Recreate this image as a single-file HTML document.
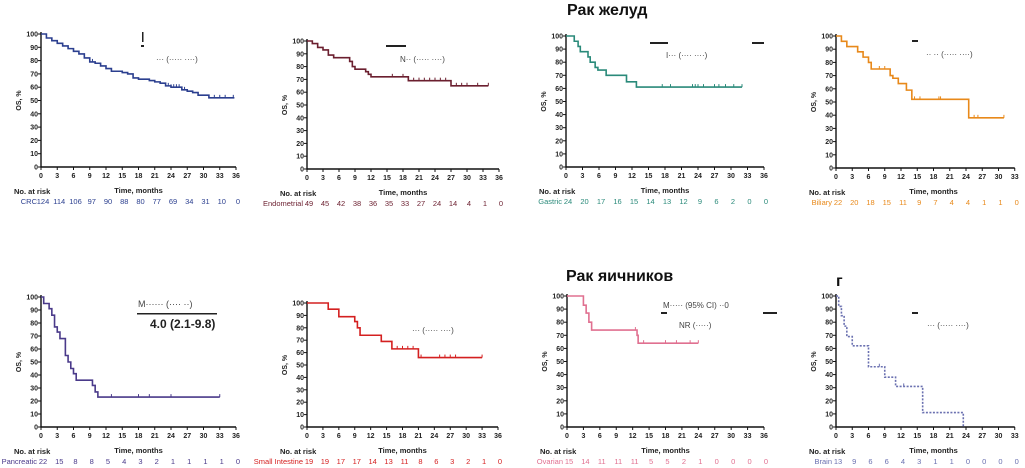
<!DOCTYPE html>
<html><head><meta charset="utf-8"><style>
html,body{margin:0;padding:0;background:#fff;}
svg{display:block;font-family:"Liberation Sans",Arial,sans-serif;}
.t{font-family:"Liberation Sans","Noto Sans CJK SC",sans-serif;font-weight:bold;}
</style></head><body>
<svg id="c" width="1025" height="468" viewBox="0 0 1025 468">
<text class="t" x="567" y="15" font-size="16" fill="#111">Рак желуд</text>
<text class="t" x="566" y="281" font-size="16" fill="#111">Рак яичников</text>
<text class="t" x="836" y="286" font-size="16" fill="#111">г</text>
<rect x="142" y="32" width="1.5" height="10" fill="#222"/>
<rect x="141" y="45" width="3" height="2" fill="#222"/>
<text x="156" y="62" font-size="8" fill="#444">··· (····· ····)</text>
<rect x="386" y="45" width="20" height="2" fill="#222"/>
<text x="400" y="62" font-size="8" fill="#444">N·· (····· ····)</text>
<rect x="650" y="42" width="18" height="2" fill="#222"/>
<rect x="752" y="42" width="12" height="2" fill="#222"/>
<text x="666" y="58" font-size="8" fill="#444">I··· (···· ····)</text>
<rect x="912" y="40" width="6" height="2" fill="#222"/>
<text x="926" y="57" font-size="8" fill="#444">·· ·· (····· ····)</text>
<text x="138" y="307" font-size="9" fill="#444">M······ (···· ··)</text>
<rect x="137" y="313" width="80" height="1.5" fill="#222"/>
<text x="150" y="328" font-size="12" font-weight="bold" fill="#222">4.0 (2.1-9.8)</text>
<text x="412" y="333" font-size="8" fill="#444">··· (····· ····)</text>
<text x="663" y="308" font-size="8" fill="#444">M····· (95% CI) ··0</text>
<rect x="661" y="312" width="6" height="2" fill="#222"/>
<rect x="763" y="312" width="14" height="2" fill="#222"/>
<text x="679" y="328" font-size="8" fill="#444">NR (·····)</text>
<rect x="912" y="312" width="6" height="2" fill="#222"/>
<text x="927" y="328" font-size="8" fill="#444">··· (····· ····)</text>
</svg>
<script>
const crcT=[0,1,2,3,4,5,6,7,8,9,10,11,12,13,15,16,17,18,20,21,22,23,24,26,27,28,29,31];
const crcS=[100,97,95,93,91,89,87,85,82,79,78,76,74,72,71,70,67,66,65,64,63,61,60,58,57,56,54,52];
const crcC=[5,9.5,11,23,23.5,24,24.5,25,25.5,26,26.5,31,32,33,34,35.5];
const crcRisk=[124,114,106,97,90,88,80,77,69,34,31,10,0];
const endT=[0,1,2,3,4,5,8,8.5,9,11,11.5,12,19,27];
const endS=[100,98,95,93,89,87,84,80,78,76,74,72,69,65];
const endC=[16,18,19,20,21,22,23,24,25,26,28,29,30,32,34];
const endRisk=[49,45,42,38,36,35,33,27,24,14,4,1,0];
const gasT=[0,1.5,2.2,2.6,4,4.4,5.3,5.8,7.3,11,12.8];
const gasS=[100,96,92,88,84,80,76,74,70,65,61];
const gasC=[17.5,19,23,23.5,24,25,27,27.8,29,30.5,32];
const gasRisk=[24,20,17,16,15,14,13,12,9,6,2,0,0];
const bilT=[0,1,2,4,5,6,6.5,10,10.5,11.5,13,14,24.5];
const bilS=[100,96,92,88,84,80,75,70,68,64,59,52,38];
const bilC=[8,9,10,14.5,15.5,19,19.3,25.5,26.2,31];
const bilRisk=[22,20,18,15,11,9,7,4,4,1,1,0];
const panT=[0,0.5,1.5,2,2.5,3,3.5,4.5,5,5.5,6,6.5,9.5,10,10.5];
const panS=[100,95,91,86,77,73,68,55,50,45,41,36,32,27,23];
const panC=[13,18,20,24,33];
const panRisk=[22,15,8,8,5,4,3,2,1,1,1,1,0];
const siT=[0,4,6,9,9.5,10,14,16,21];
const siS=[100,95,89,85,80,74,69,63,56];
const siC=[17,18,19,20,21.5,25,26,27,28,33];
const siRisk=[19,19,17,17,14,13,11,8,6,3,2,1,0];
const ovT=[0,3,3.5,4,4.5,12.8,13];
const ovS=[100,93,87,80,74,70,64];
const ovC=[12.5,14,18,20,22.5,24];
const ovRisk=[15,14,11,11,11,5,5,2,1,0,0,0,0];
const brT=[0,0.5,1,1.5,2,3,6,9,11,16,23.5];
const brS=[100,92,85,77,69,62,46,38,31,11,0];
const brC=[8,12.5];
const brRisk=[13,9,6,6,4,3,1,1,0,0,0,0,0];
const xTicks=[0,3,6,9,12,15,18,21,24,27,30,33,36];
const yTicks=[0,10,20,30,40,50,60,70,80,90,100];

const panels=[
 {id:'crc',T:crcT,S:crcS,C:crcC,R:crcRisk,end:35.7,lbl:'CRC',col:'#2b3f8f',x0:41,x36:236,y100:34,y0:167,xmax:36},
 {id:'endometrial',T:endT,S:endS,C:endC,R:endRisk,end:34,lbl:'Endometrial',col:'#6b1f2f',x0:307,x36:499,y100:41,y0:169,xmax:36},
 {id:'gastric',T:gasT,S:gasS,C:gasC,R:gasRisk,end:32,lbl:'Gastric',col:'#2a8a7a',x0:566,x36:764,y100:36,y0:167,xmax:36},
 {id:'biliary',T:bilT,S:bilS,C:bilC,R:bilRisk,end:31,lbl:'Biliary',col:'#e8891a',x0:836,x36:1031,y100:36,y0:168,xmax:33},
 {id:'pancreatic',T:panT,S:panS,C:panC,R:panRisk,end:33,lbl:'Pancreatic',col:'#4a3a8a',x0:41,x36:236,y100:297,y0:427,xmax:36},
 {id:'small-intestine',T:siT,S:siS,C:siC,R:siRisk,end:33,lbl:'Small Intestine',col:'#d42020',x0:307,x36:498,y100:303,y0:427,xmax:36},
 {id:'ovarian',T:ovT,S:ovS,C:ovC,R:ovRisk,end:24,lbl:'Ovarian',col:'#e07090',x0:567,x36:764,y100:296,y0:427,xmax:36},
 {id:'brain',T:brT,S:brS,C:brC,R:brRisk,end:23.5,lbl:'Brain',col:'#6a70b0',x0:836,x36:1031,y100:296,y0:427,xmax:33,dash:true}
];
const svg=document.getElementById('c');
const NS='http://www.w3.org/2000/svg';
function mk(tag,attrs,parent){const e=document.createElementNS(NS,tag);for(const k in attrs)e.setAttribute(k,attrs[k]);(parent||svg).appendChild(e);return e;}
panels.forEach(p=>{
 const g=mk('g',{});
 
 
 const X=t=>p.x0+(p.x36-p.x0)*t/36;
 const Y=v=>p.y0-(p.y0-p.y100)*v/100;
 const xEnd=X(p.xmax);
 const ax=mk('path',{d:`M${p.x0},${p.y100-2}V${p.y0}H${xEnd}`,stroke:'#111','stroke-width':1.4,fill:'none'},g);
 
 
 yTicks.forEach(v=>{
  mk('line',{x1:p.x0-3,x2:p.x0,y1:Y(v),y2:Y(v),stroke:'#111','stroke-width':1},g);
  const t=mk('text',{x:p.x0-3,y:Y(v)+2.5,'font-size':7,'font-weight':'bold','text-anchor':'end',fill:'#222'},g);
  t.textContent=v;
  
  
 });
 xTicks.filter(v=>v<=p.xmax).forEach(v=>{
  mk('line',{x1:X(v),x2:X(v),y1:p.y0,y2:p.y0+3,stroke:'#111','stroke-width':1},g);
  const t=mk('text',{x:X(v),y:p.y0+11,'font-size':7,'font-weight':'bold','text-anchor':'middle',fill:'#222'},g);
  t.textContent=v;
  
  
 });
 const yl=mk('text',{transform:`translate(${p.x0-20},${(p.y0+p.y100)/2}) rotate(-90)`,'font-size':7,'font-weight':'bold','text-anchor':'middle',fill:'#222'},g);
 yl.textContent='OS, %';
 
 
 const xl=mk('text',{x:(p.x0+X(36))/2,y:p.y0+26,'font-size':7.5,'font-weight':'bold','text-anchor':'middle',fill:'#222'},g);
 xl.textContent='Time, months';
 
 
 const nr=mk('text',{x:p.x0-27,y:p.y0+27,'font-size':7.5,'font-weight':'bold',fill:'#222'},g);
 nr.textContent='No. at risk';
 
 
 const rl=mk('text',{x:X(0)-4,y:p.y0+37,'font-size':7.5,'text-anchor':'end',fill:p.col},g);
 rl.textContent=p.lbl;
 
 
 p.R.forEach((n,i)=>{
  const t=mk('text',{x:X(xTicks[i])+2,y:p.y0+37,'font-size':7.5,'text-anchor':'middle',fill:p.col},g);
  t.textContent=n;
  
  
 });
 let d=`M${X(p.T[0])},${Y(p.S[0])}`;
 for(let i=1;i<p.T.length;i++){d+=`H${X(p.T[i])}V${Y(p.S[i])}`;}
 d+=`H${X(p.end)}`;
 const c=mk('path',{d:d,stroke:p.col,'stroke-width':1.6,fill:'none'},g);
 if(p.dash)c.setAttribute('stroke-dasharray','2,1.5');
 
 
 const surv=t=>{let s=p.S[0];for(let i=0;i<p.T.length;i++){if(p.T[i]<=t)s=p.S[i];}return s;};
 p.C.forEach(t=>{
  const m=mk('line',{x1:X(t),x2:X(t),y1:Y(surv(t))-3,y2:Y(surv(t)),stroke:p.col,'stroke-width':1},g);
  
  
 });
});
</script>
</body></html>
